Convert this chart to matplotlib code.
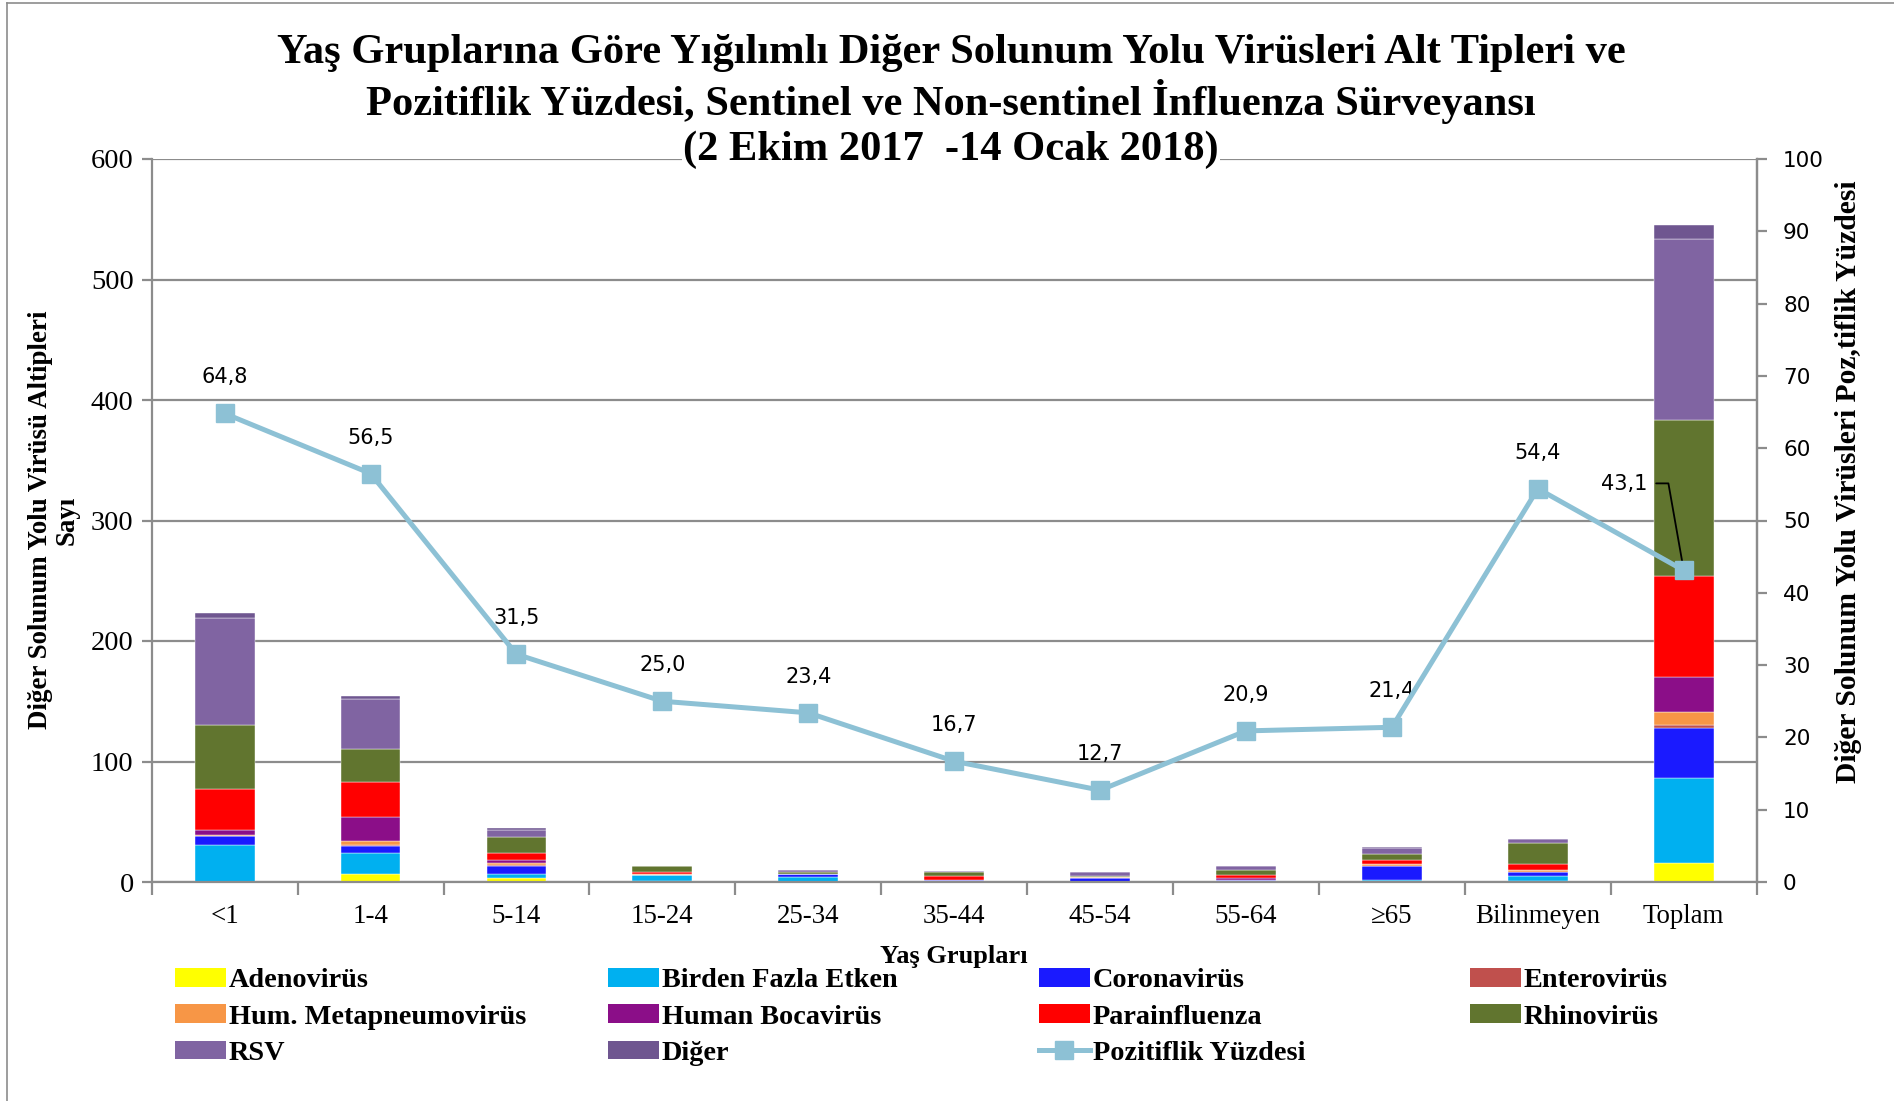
import numpy as np
import matplotlib
matplotlib.use("Agg")
import matplotlib.pyplot as plt
from matplotlib.patches import Patch
from matplotlib.lines import Line2D

# ---------------- data ----------------
categories = ['<1', '1-4', '5-14', '15-24', '25-34', '35-44', '45-54',
              '55-64', '≥65', 'Bilinmeyen', 'Toplam']
adeno  = [0, 7, 3, 1, 0, 0, 0, 0, 0, 1, 16]
birden = [31, 17, 4, 5, 4, 0, 0, 1, 2, 4, 70]
corona = [7, 6, 6, 0, 3, 2, 3, 1, 11, 3, 42]
entero = [0, 1, 1, 0, 0, 0, 0, 0, 0, 0, 2]
metap  = [1, 3, 2, 1, 0, 0, 1, 0, 2, 2, 11]
boca   = [4, 20, 2, 0, 0, 0, 0, 1, 0, 0, 29]
para   = [34, 29, 6, 1, 0, 3, 0, 3, 3, 5, 84]
rhino  = [53, 27, 13, 5, 1, 3, 1, 4, 5, 17, 129]
rsv    = [89, 42, 6, 0, 2, 1, 3, 3, 5, 4, 151]
diger  = [4, 2, 2, 0, 0, 0, 0, 0, 1, 0, 11]
pozitiflik = [64.8, 56.5, 31.5, 25.0, 23.4, 16.7, 12.7, 20.9, 21.4, 54.4, 43.1]

series_names = ['Adenovirüs', 'Birden Fazla Etken', 'Coronavirüs', 'Enterovirüs',
                'Hum. Metapneumovirüs', 'Human Bocavirüs', 'Parainfluenza',
                'Rhinovirüs', 'RSV', 'Diğer']
series_vals = [adeno, birden, corona, entero, metap, boca, para, rhino, rsv, diger]
series_colors = ['#FFFF00', '#00B0F0', '#1A1AFF', '#C0504D', '#F79646',
                 '#8B0E88', '#FF0000', '#61752F', '#8064A2', '#6F5690']
line_color = '#8DC1D5'

SERIF = 'Liberation Serif'
SANS = 'DejaVu Sans'

fig = plt.figure(figsize=(18.94, 11.01), dpi=100)
W, H = 1894, 1101
ax = fig.add_axes([151.7 / W, 1 - 882 / H, (1756.7 - 151.7) / W, (882 - 159) / H])

x = np.arange(len(categories))
bottom = np.zeros(len(categories))
handles = {}
for name, vals, col in zip(series_names, series_vals, series_colors):
    v = np.array(vals, dtype=float)
    ax.bar(x, v, width=0.41, bottom=bottom, color=col, edgecolor='white',
           linewidth=0.3, zorder=2)
    bottom += v
    handles[name] = Patch(facecolor=col, edgecolor='none')

ax.set_xlim(-0.5, len(categories) - 0.5)
ax.set_ylim(0, 600)
ax.set_yticks(np.arange(0, 601, 100))
ax.set_axisbelow(True)
ax.yaxis.grid(True, color='#8C8C8C', linewidth=1.6)
for s in ['left', 'bottom', 'right', 'top']:
    ax.spines[s].set_color('#8C8C8C')
    ax.spines[s].set_linewidth(1.6)
ax.spines['top'].set_visible(False)

# x ticks at category boundaries, labels at centers
ax.set_xticks(np.arange(-0.5, len(categories), 1.0))
ax.set_xticklabels([])
ax.set_xticks(x, minor=True)
ax.set_xticklabels(categories, minor=True, fontfamily=SERIF, fontsize=19.4)
ax.tick_params(axis='x', which='major', direction='out', length=9, width=1.6,
               color='#8C8C8C')
ax.tick_params(axis='x', which='minor', length=0, pad=16)
ax.tick_params(axis='y', direction='out', length=7, width=1.6, color='#8C8C8C',
               labelsize=20.5, pad=6)
for lab in ax.get_yticklabels():
    lab.set_fontfamily(SERIF)

# secondary axis
ax2 = ax.twinx()
ax2.set_ylim(0, 100)
ax2.set_yticks(np.arange(0, 101, 10))
ax2.tick_params(axis='y', direction='out', length=7, width=1.6, color='#8C8C8C',
                labelsize=15.5, pad=12)
for lab in ax2.get_yticklabels():
    lab.set_fontfamily(SANS)
for s in ax2.spines.values():
    s.set_visible(False)
ax2.spines['right'].set_visible(True)
ax2.spines['right'].set_color('#8C8C8C')
ax2.spines['right'].set_linewidth(1.6)

ax2.plot(x, pozitiflik, color=line_color, linewidth=3.6, marker='s',
         markersize=13.5, markerfacecolor=line_color, markeredgecolor=line_color,
         zorder=5)

for i, p in enumerate(pozitiflik):
    txt = f'{p:.1f}'.replace('.', ',')
    if i == len(pozitiflik) - 1:
        ax2.annotate(txt, xy=(x[i], p), xytext=(-60, 86.6),
                     textcoords='offset pixels', ha='center', va='center',
                     fontsize=15, fontfamily=SANS)
        ax2.annotate('', xy=(x[i], p), xytext=(-27.6, 87),
                     textcoords='offset pixels',
                     arrowprops=dict(arrowstyle='-', color='black', lw=1.3,
                                     shrinkA=0, shrinkB=2,
                                     connectionstyle='angle,angleA=0,angleB=100,rad=0'))
    else:
        ax2.annotate(txt, xy=(x[i], p), xytext=(0, 36),
                     textcoords='offset pixels', ha='center', va='center',
                     fontsize=15, fontfamily=SANS)

# titles and labels
title_lines = ['Yaş Gruplarına Göre Yığılımlı Diğer Solunum Yolu Virüsleri Alt Tipleri ve',
               'Pozitiflik Yüzdesi, Sentinel ve Non-sentinel İnfluenza Sürveyansı',
               '(2 Ekim 2017  -14 Ocak 2018)']
for yy, t in zip([53, 101, 150], title_lines):
    kw = {}
    if yy == 150:
        kw['bbox'] = dict(facecolor='white', edgecolor='none', pad=1)
    fig.text(951 / W, 1 - yy / H, t, ha='center', va='center', fontsize=30.6,
             fontweight='bold', fontfamily=SERIF, zorder=10, **kw)

fig.text(54 / W, 1 - 520 / H, 'Diğer Solunum Yolu Virüsü Altipleri\nSayı',
         rotation=90, ha='center', va='center', fontsize=19.4, fontweight='bold',
         fontfamily=SERIF, multialignment='center', linespacing=1.1)
fig.text(1848 / W, 1 - 482 / H, 'Diğer Solunum Yolu Virüsleri Poz,tiflik Yüzdesi',
         rotation=90, ha='center', va='center', fontsize=21.3, fontweight='bold',
         fontfamily=SERIF)
fig.text(954 / W, 1 - 957 / H, 'Yaş Grupları', ha='center', va='center',
         fontsize=19, fontweight='bold', fontfamily=SERIF)

# legend in 4 columns (row-major order)
line_handle = Line2D([0], [0], color=line_color, linewidth=3.6, marker='s',
                     markersize=13.5, markerfacecolor=line_color,
                     markeredgecolor=line_color)
handles['Pozitiflik Yüzdesi'] = line_handle
columns = [['Adenovirüs', 'Hum. Metapneumovirüs', 'RSV'],
           ['Birden Fazla Etken', 'Human Bocavirüs', 'Diğer'],
           ['Coronavirüs', 'Parainfluenza', 'Pozitiflik Yüzdesi'],
           ['Enterovirüs', 'Rhinovirüs']]
col_x = [175, 608, 1039, 1470]
for cx, names in zip(col_x, columns):
    leg = fig.legend([handles[n] for n in names], names, loc='upper left',
                     bbox_to_anchor=(cx / W, 1 - 968 / H), frameon=False,
                     prop=dict(family=SERIF, weight='bold', size=20.3),
                     handlelength=1.8, handleheight=0.65, handletextpad=0.1,
                     labelspacing=0.39, borderpad=0, borderaxespad=0)

# outer frame lines (left, top)
fig.add_artist(Line2D([7 / W, 7 / W], [0, 1 - 3 / H], color='#8C8C8C',
                      linewidth=1.2, transform=fig.transFigure))
fig.add_artist(Line2D([7 / W, 1], [1 - 3 / H, 1 - 3 / H], color='#8C8C8C',
                      linewidth=1.2, transform=fig.transFigure))

fig.savefig('out.png', dpi=100, facecolor='white')
